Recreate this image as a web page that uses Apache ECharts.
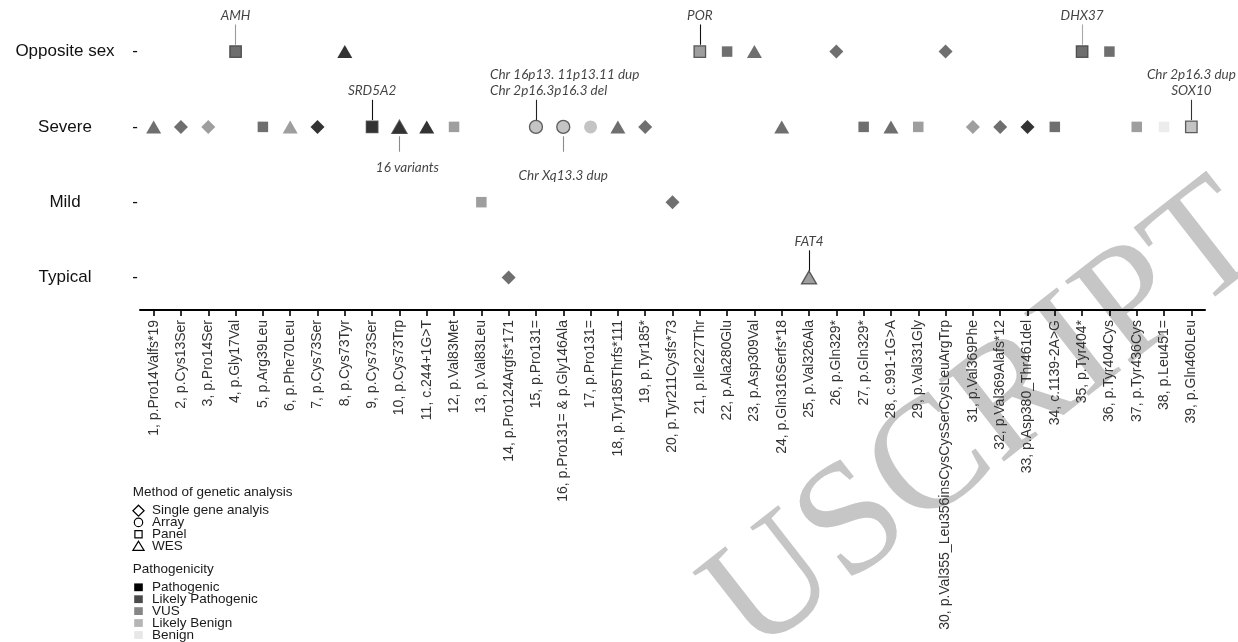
<!DOCTYPE html>
<html>
<head>
<meta charset="utf-8">
<script src="https://cdn.jsdelivr.net/npm/echarts@6/dist/echarts.min.js"></script>
<style>
  html, body { margin: 0; padding: 0; background: #fff; }
  #chart { width: 1238px; height: 642px; }
</style>
</head>
<body>
<div id="chart"></div>
<script>
// Phenotype rows, bottom to top
const phenotypeRows = ['Typical', 'Mild', 'Severe', 'Opposite sex'];

// Variants in order along the x axis
const variantLabels = [
  '1, p.Pro14Valfs*19', '2, p.Cys13Ser', '3, p.Pro14Ser', '4, p.Gly17Val', '5, p.Arg39Leu',
  '6, p.Phe70Leu', '7, p.Cys73Ser', '8, p.Cys73Tyr', '9, p.Cys73Ser', '10, p.Cys73Trp',
  '11, c.244+1G>T', '12, p.Val83Met', '13, p.Val83Leu', '14, p.Pro124Argfs*171', '15, p.Pro131=',
  '16, p.Pro131= & p.Gly146Ala', '17, p.Pro131=', '18, p.Tyr185Thrfs*111', '19, p.Tyr185*', '20, p.Tyr211Cysfs*73',
  '21, p.Ile227Thr', '22, p.Ala280Glu', '23, p.Asp309Val', '24, p.Gln316Serfs*18', '25, p.Val326Ala',
  '26, p.Gln329*', '27, p.Gln329*', '28, c.991-1G>A', '29, p.Val331Gly', '30, p.Val355_Leu356insCysCysSerCysLeuArgTrp',
  '31, p.Val369Phe', '32, p.Val369Alafs*12', '33, p.Asp380_Thr461del', '34, c.1139-2A>G', '35, p.Tyr404*',
  '36, p.Tyr404Cys', '37, p.Tyr436Cys', '38, p.Leu451=', '39, p.Gln460Leu'
];

// Phenotype of each variant carrier
const variantPhenotype = [
  'Severe', 'Severe', 'Severe', 'Opposite sex', 'Severe', 'Severe', 'Severe', 'Opposite sex', 'Severe', 'Severe',
  'Severe', 'Severe', 'Mild', 'Typical', 'Severe', 'Severe', 'Severe', 'Severe', 'Severe', 'Mild',
  'Opposite sex', 'Opposite sex', 'Opposite sex', 'Severe', 'Typical', 'Opposite sex', 'Severe', 'Severe', 'Severe', 'Opposite sex',
  'Severe', 'Severe', 'Severe', 'Severe', 'Opposite sex', 'Opposite sex', 'Severe', 'Severe', 'Severe'
];

// Method of genetic analysis for each variant
const variantMethod = [
  'WES', 'Single gene analyis', 'Single gene analyis', 'Panel', 'Panel', 'WES', 'Single gene analyis', 'WES', 'Panel', 'WES',
  'WES', 'Panel', 'Panel', 'Single gene analyis', 'Array', 'Array', 'Array', 'WES', 'Single gene analyis', 'Single gene analyis',
  'Panel', 'Panel', 'WES', 'WES', 'WES', 'Single gene analyis', 'Panel', 'WES', 'Panel', 'Single gene analyis',
  'Single gene analyis', 'Single gene analyis', 'Single gene analyis', 'Panel', 'Panel', 'Panel', 'Panel', 'Panel', 'Panel'
];

// Pathogenicity class of each variant
const variantClass = [
  'Likely Pathogenic', 'Likely Pathogenic', 'VUS', 'Likely Pathogenic', 'Likely Pathogenic', 'VUS', 'Pathogenic', 'Pathogenic', 'Pathogenic', 'Pathogenic',
  'Pathogenic', 'VUS', 'VUS', 'Likely Pathogenic', 'Likely Benign', 'Likely Benign', 'Likely Benign', 'Likely Pathogenic', 'Likely Pathogenic', 'Likely Pathogenic',
  'VUS', 'Likely Pathogenic', 'Likely Pathogenic', 'Likely Pathogenic', 'VUS', 'Likely Pathogenic', 'Likely Pathogenic', 'Likely Pathogenic', 'VUS', 'Likely Pathogenic',
  'VUS', 'Likely Pathogenic', 'Pathogenic', 'Likely Pathogenic', 'Likely Pathogenic', 'Likely Pathogenic', 'VUS', 'Benign', 'Likely Benign'
];

// Additional findings: [variant number, note]
const geneNotes = [
  [4, 'AMH'],
  [9, 'SRD5A2'],
  [10, '16 variants'],
  [15, 'Chr 16p13. 11p13.11 dup\nChr 2p16.3p16.3 del'],
  [16, 'Chr Xq13.3 dup'],
  [21, 'POR'],
  [25, 'FAT4'],
  [35, 'DHX37'],
  [39, 'Chr 2p16.3 dup\nSOX10']
];

// Legend entries
const methodNames = ['Single gene analyis', 'Array', 'Panel', 'WES'];
const classNames = ['Pathogenic', 'Likely Pathogenic', 'VUS', 'Likely Benign', 'Benign'];

// Visible part of the diagonal page stamp
const stampLetters = ['U', 'S', 'C', 'R', 'I', 'P', 'T'];

// ---- styling ----
const SANS = '"Liberation Sans", Arial, sans-serif';
const NOTE_FONT = 'Lato, "Open Sans", sans-serif';
const classColor = {
  'Pathogenic': '#000000',
  'Likely Pathogenic': '#4b4b4b',
  'VUS': '#868686',
  'Likely Benign': '#b5b5b5',
  'Benign': '#e7e7e7'
};
const methodSymbol = {
  'Single gene analyis': 'diamond',
  'Array': 'circle',
  'Panel': 'rect',
  'WES': 'triangle'
};
const symbolSize = { diamond: [14, 14], circle: [13, 13], rect: [10.5, 10.5], triangle: [15, 13] };

// Placement of each note: direction (1 above, -1 below), leader colour, text shifts
const noteLayout = {
  4:  { dir: 1,  line: '#9a9a9a' },
  9:  { dir: 1,  line: '#111111' },
  10: { dir: -1, line: '#8a8a8a', dx: 8, gap: 8 },
  15: { dir: 1,  line: '#222222', align: 'left', dx: -46 },
  16: { dir: -1, line: '#8a8a8a', gap: 16 },
  21: { dir: 1,  line: '#111111' },
  25: { dir: 1,  line: '#111111' },
  35: { dir: 1,  line: '#a8a8a8' },
  39: { dir: 1,  line: '#333333' }
};

const rowValue = name => phenotypeRows.indexOf(name) + 1;
const noted = new Map(geneNotes);

const points = variantLabels.map((label, i) => {
  const sym = methodSymbol[variantMethod[i]];
  const hasNote = noted.has(i + 1);
  let size = symbolSize[sym];
  if (hasNote && sym === 'rect') size = [11.5, 11.5];
  return {
    name: label,
    value: [i, rowValue(variantPhenotype[i])],
    symbol: sym,
    symbolSize: size,
    itemStyle: {
      color: classColor[variantClass[i]],
      borderColor: hasNote ? '#3a3a3a' : 'rgba(0,0,0,0)',
      borderWidth: hasNote ? 1.3 : 0
    }
  };
});

// Note anchors sit at the far end of each leader line
const LINE_NEAR = 0.09, LINE_FAR_UP = 0.36, LINE_FAR_DOWN = 0.33, LINE_NEAR_DOWN = 0.125;
const noteAnchors = [];
const leaderLines = [];
geneNotes.forEach(([num, text]) => {
  const i = num - 1;
  const row = rowValue(variantPhenotype[i]);
  const lay = noteLayout[num];
  const up = lay.dir > 0;
  const y0 = up ? row + LINE_NEAR : row - LINE_NEAR_DOWN;
  const y1 = up ? row + LINE_FAR_UP : row - LINE_FAR_DOWN;
  leaderLines.push([
    { coord: [i, y0], lineStyle: { color: lay.line, width: 1.1, type: 'solid' } },
    { coord: [i, y1] }
  ]);
  noteAnchors.push({
    value: [i, y1],
    label: {
      show: true,
      formatter: text,
      position: up ? 'top' : 'bottom',
      distance: up ? 1 : (lay.gap || 0),
      align: lay.align || 'center',
      offset: [lay.dx || 0, 0]
    }
  });
});

// ---- legend drawn as plain graphics ----
const LG_SYM_X = 138.5, LG_TEXT_X = 152;
const legendFont = '13.5px ' + SANS;
const legendText = (txt, x, y) => ({
  type: 'text', x: x, y: y, silent: true,
  style: { text: txt, font: legendFont, fill: '#1a1a1a', textAlign: 'left', textVerticalAlign: 'middle', align: 'left', verticalAlign: 'middle' }
});
const methodY = [510.7, 522.4, 534.2, 546.2];
const classY = [587.3, 599.2, 611.1, 623.0, 635.0];
const outline = { fill: 'none', stroke: '#000', lineWidth: 1.2 };
const methodShapes = [
  { type: 'polygon', shape: { points: [[LG_SYM_X, methodY[0] - 5.5], [LG_SYM_X + 5.6, methodY[0]], [LG_SYM_X, methodY[0] + 5.5], [LG_SYM_X - 5.6, methodY[0]]] }, style: outline },
  { type: 'circle', shape: { cx: LG_SYM_X, cy: methodY[1], r: 4.2 }, style: outline },
  { type: 'rect', shape: { x: LG_SYM_X - 3.6, y: methodY[2] - 3.6, width: 7.2, height: 7.2 }, style: outline },
  { type: 'polygon', shape: { points: [[LG_SYM_X, methodY[3] - 5], [LG_SYM_X + 5.6, methodY[3] + 4.2], [LG_SYM_X - 5.6, methodY[3] + 4.2]] }, style: outline }
];

// ---- stamp letters laid along a diagonal ----
const STAMP_FONT = '160px "Liberation Serif", "DejaVu Serif", serif';
const STAMP_ANGLE = 38 * Math.PI / 180;
const STAMP_START = [774, 588];
const measureCtx = document.createElement('canvas').getContext('2d');
measureCtx.font = STAMP_FONT;
const stampGraphics = [];
let advance = 0, prevWidth = 0;
stampLetters.forEach((ch, k) => {
  const w = measureCtx.measureText(ch).width;
  if (k > 0) advance += (prevWidth + w) / 2;
  prevWidth = w;
  stampGraphics.push({
    type: 'text',
    x: STAMP_START[0] + advance * Math.cos(STAMP_ANGLE),
    y: STAMP_START[1] - advance * Math.sin(STAMP_ANGLE),
    rotation: STAMP_ANGLE,
    z: -10, silent: true,
    style: { text: ch, font: STAMP_FONT, fill: '#c6c6c6', textAlign: 'center', textVerticalAlign: 'middle', align: 'center', verticalAlign: 'middle' }
  });
});

const graphics = [
  ...stampGraphics,
  legendText('Method of genetic analysis', 132.7, 492.7),
  ...methodNames.map((m, k) => legendText(m, LG_TEXT_X, methodY[k])),
  ...methodShapes.map(s => Object.assign({ silent: true }, s)),
  legendText('Pathogenicity', 132.7, 569.3),
  ...classNames.map((c, k) => legendText(c, LG_TEXT_X, classY[k])),
  ...classNames.map((c, k) => ({
    type: 'rect', silent: true,
    shape: { x: 134.2, y: classY[k] - 3.9, width: 8.6, height: 7.8 },
    style: { fill: classColor[c] }
  }))
];

const chart = echarts.init(document.getElementById('chart'));
chart.setOption({
  animation: false,
  backgroundColor: '#ffffff',
  grid: { left: 140, right: 33, top: 17.7, bottom: 332, containLabel: false },
  xAxis: {
    type: 'category',
    data: variantLabels,
    boundaryGap: true,
    axisLine: { show: true, lineStyle: { color: '#000', width: 2 } },
    axisTick: { show: true, alignWithLabel: true, length: 6, lineStyle: { color: '#000', width: 1.6 } },
    axisLabel: { interval: 0, rotate: 90, margin: 10, fontSize: 14, fontFamily: SANS, color: '#333' },
    splitLine: { show: false }
  },
  yAxis: {
    type: 'value',
    min: 0.568,
    max: 4.45,
    axisLine: { show: false },
    axisTick: { show: false },
    splitLine: { show: false },
    axisLabel: {
      customValues: [1, 2, 3, 4],
      margin: 2,
      formatter: v => '{n|' + phenotypeRows[Math.round(v) - 1] + '}{d|-}',
      rich: {
        n: { width: 110, align: 'center', fontSize: 17, fontFamily: SANS, color: '#111' },
        d: { width: 18, align: 'right', fontSize: 17, fontFamily: SANS, color: '#111' }
      }
    }
  },
  series: [
    {
      name: 'Variants',
      type: 'scatter',
      data: points,
      z: 3,
      silent: true
    },
    {
      name: 'Notes',
      type: 'scatter',
      data: noteAnchors,
      symbolSize: 0,
      silent: true,
      z: 4,
      label: {
        fontFamily: NOTE_FONT,
        fontStyle: 'italic',
        fontSize: 13.5,
        lineHeight: 16,
        color: '#111'
      },
      markLine: {
        silent: true,
        symbol: ['none', 'none'],
        label: { show: false },
        data: leaderLines
      }
    }
  ],
  graphic: graphics
});
</script>
</body>
</html>
